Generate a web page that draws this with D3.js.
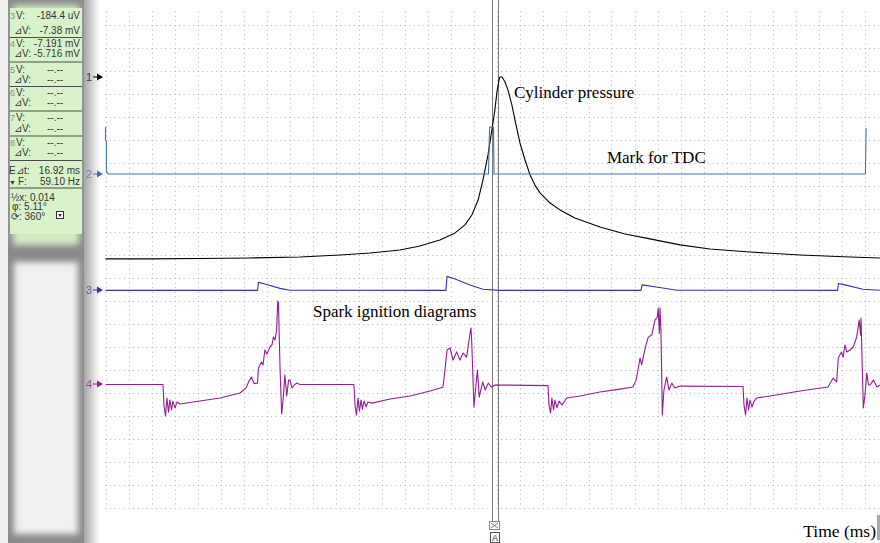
<!DOCTYPE html>
<html><head><meta charset="utf-8">
<script src="https://cdn.jsdelivr.net/npm/d3@7"></script>
<style>html,body{margin:0;padding:0;background:#fff;overflow:hidden}</style>
</head><body><svg id="c" width="880" height="543"></svg>
<script>
// ---------------- DATA ----------------
// time axis: 1 ms per grid division
const gridTimesMs = d3.range(0, 34);
const gridDivs = d3.range(-1, 22);
const channelIds = ["1", "2", "3", "4"];
// channel zero positions, in grid divisions from the top grid line
const channelOffsetsDiv = [2.26, 6.48, 11.52, 15.61];

// Channel 1 – cylinder pressure (divisions relative to channel zero)
const ch1Time = [0,1.93,4.11,6.28,8.46,10.20,11.50,12.80,13.67,14.54,15.20,15.63,15.93,16.20,16.41,16.63,16.80,16.93,17.02,17.11,17.15,17.24,17.37,17.50,17.67,17.85,18.02,18.24,18.46,18.67,18.89,19.33,19.76,20.41,21.50,22.59,23.67,24.98,26.28,28.02,30.20,32.37,33.67];
const ch1Div = [-7.91,-7.91,-7.89,-7.87,-7.83,-7.74,-7.65,-7.52,-7.35,-7.09,-6.78,-6.43,-6.00,-5.35,-4.48,-3.39,-2.30,-1.43,-0.65,-0.13,0,0,-0.22,-0.57,-1.22,-2.09,-2.87,-3.61,-4.26,-4.70,-5.04,-5.48,-5.78,-6.13,-6.52,-6.83,-7.04,-7.30,-7.48,-7.61,-7.74,-7.83,-7.87];

// Channel 2 – TDC mark
const ch2Time = [0,0,0.04,0.04,0.13,16.65,16.70,16.87,16.89,33.04,33.07];
const ch2Div = [2.04,1.48,1.43,0.09,0,0,2.04,2.04,0,0,2.0];

// Channel 3 – ignition primary
const ch3Time = [0,6.61,6.65,6.93,7.59,8.02,14.80,14.85,15.20,15.85,16.41,17.15,23.28,23.33,24.02,24.85,31.83,31.87,32.15,32.93,33.67];
const ch3Div = [-0.02,-0.02,0.33,0.26,0.07,-0.01,-0.02,0.59,0.48,0.22,0.03,-0.02,-0.02,0.22,0.12,-0.01,-0.02,0.28,0.22,0.03,-0.01];

// Channel 4 – spark ignition diagram
const ch4Time = [0,2.50,2.54,2.61,2.67,2.74,2.80,2.87,2.93,3.02,3.11,3.24,4.11,4.98,5.85,6.11,6.24,6.35,6.46,6.61,6.65,6.78,6.85,6.93,7.02,7.15,7.24,7.30,7.37,7.44,7.49,7.52,7.59,7.66,7.72,7.80,7.88,7.96,8.02,8.11,8.20,8.31,8.46,
 10.80,10.85,10.91,10.98,11.04,11.11,11.17,11.24,11.33,11.41,11.59,12.37,13.24,14.11,14.67,14.76,14.85,14.98,15.11,15.27,15.41,15.55,15.70,15.85,15.89,15.92,16.02,16.17,16.25,16.40,16.51,16.64,16.79,16.93,19.24,
 19.28,19.35,19.41,19.48,19.54,19.63,19.72,19.85,20.05,20.63,21.50,22.37,22.93,23.07,23.15,23.24,23.31,23.38,23.50,23.60,23.75,23.89,23.99,24.03,24.08,24.11,24.15,24.21,24.28,24.40,24.50,24.62,24.76,24.98,27.72,
 27.76,27.83,27.89,27.96,28.02,28.11,28.20,28.31,28.89,30.20,31.41,31.54,31.64,31.79,31.86,32.00,32.07,32.15,32.23,32.37,32.51,32.66,32.77,32.83,32.85,32.89,32.95,33.02,33.10,33.17,33.24,33.39,33.54,33.67];
const ch4Div = [-0.02,-0.02,-0.91,-1.39,-0.61,-1.22,-0.70,-1.13,-0.74,-1.04,-0.78,-0.87,-0.74,-0.61,-0.39,-0.17,0.13,0.30,0.02,0.04,0.70,0.96,0.83,1.48,1.30,1.61,1.70,2.04,1.91,2.35,3.61,3.52,0.61,-1.30,-0.70,0.39,-0.52,0.17,0.17,-0.17,-0.04,0.04,-0.02,
 -0.02,-0.91,-1.35,-0.61,-1.17,-0.70,-1.09,-0.74,-1.00,-0.78,-0.83,-0.65,-0.52,-0.30,-0.14,0.61,1.48,1.57,1.04,1.40,1.04,1.35,1.17,2.22,2.43,1.91,-1.00,0.61,-0.57,0.09,-0.26,0.04,-0.13,-0.04,-0.07,
 -0.91,-1.26,-0.61,-1.13,-0.70,-1.04,-0.74,-0.91,-0.61,-0.52,-0.35,-0.22,-0.13,0.17,0.61,1.13,0.83,1.17,1.70,2.04,2.13,2.78,2.91,3.30,2.22,3.30,2.35,-1.35,-0.26,0.30,-0.26,0.04,-0.17,-0.09,-0.11,
 -0.91,-1.35,-0.61,-1.13,-0.70,-1.00,-0.74,-0.61,-0.52,-0.30,-0.13,0.09,0.26,0.09,1.13,1.39,1.17,1.70,1.39,1.48,1.61,2.04,2.78,2.13,2.87,1.26,-1.04,-0.48,0.48,-0.04,-0.04,0.17,-0.13,-0.04];

const cursorTimeMs = [16.8, 17.06];
const annotationTexts = ["Cylinder pressure", "Mark for TDC", "Spark ignition diagrams"];
const annotationTimeMs = [17.76, 21.8, 9.02];
const annotationDiv = [3.17, 6.02, 12.68];
const axisTitle = "Time (ms)";

const readoutRows = [
  ["3", "V:", "-184.4 uV", 15], ["", "\u22BFV:", "-7.38 mV", 30],
  ["4", "V:", "-7.191 mV", 43], ["", "\u22BFV:", "-5.716 mV", 53.5],
  ["5", "V:", "--.--", 69], ["", "\u22BFV:", "--.--", 79.5],
  ["6", "V:", "--.--", 92], ["", "\u22BFV:", "--.--", 102],
  ["7", "V:", "--.--", 117], ["", "\u22BFV:", "--.--", 128],
  ["8", "V:", "--.--", 142], ["", "\u22BFV:", "--.--", 152.5]
];
const separatorsY = [37, 61.5, 86, 110.5, 135.5, 160, 187.5];

// ---------------- DRAW ----------------
const svg = d3.select("#c");
const defs = svg.append("defs");
const blur = defs.append("filter").attr("id", "blur").attr("x", "-20%").attr("y", "-20%").attr("width", "140%").attr("height", "140%");
blur.append("feGaussianBlur").attr("stdDeviation", 3);
const shade = defs.append("linearGradient").attr("id", "shade");
shade.append("stop").attr("offset", "0%").attr("stop-color", "#a0a0a0");
shade.append("stop").attr("offset", "100%").attr("stop-color", "#ffffff");

const x = d3.scaleLinear().domain([0, 33]).range([105.5, 864.5]);
const y = d3.scaleLinear().domain([0, 21]).range([25, 508]);

svg.append("rect").attr("width", 880).attr("height", 543).attr("fill", "#fff");

// grid
const grid = svg.append("g").attr("stroke", "#b0b0b0").attr("stroke-width", 1).attr("stroke-dasharray", "1 3.6");
grid.selectAll("line.v").data(gridTimesMs).join("line").attr("class", "v")
  .attr("x1", d => Math.round(x(d)) + 0.5).attr("x2", d => Math.round(x(d)) + 0.5)
  .attr("y1", y(-1)).attr("y2", y(21));
grid.selectAll("line.h").data(gridDivs.filter(d => d >= 0)).join("line").attr("class", "h")
  .attr("x1", x(0)).attr("x2", 880)
  .attr("y1", d => Math.round(y(d)) + 0.5).attr("y2", d => Math.round(y(d)) + 0.5);
svg.append("rect").attr("x", 100).attr("y", 0).attr("width", 780).attr("height", 9).attr("fill", "#fff");

// left panel
svg.append("rect").attr("x", 0).attr("y", 0).attr("width", 100).attr("height", 543).attr("fill", "#efefef");
svg.append("rect").attr("x", 83).attr("y", 0).attr("width", 17).attr("height", 543).attr("fill", "url(#shade)");
svg.append("rect").attr("x", 8).attr("y", 0).attr("width", 76).attr("height", 543).attr("fill", "#8a8a8a");
svg.append("rect").attr("x", 14).attr("y", 262).attr("width", 64).attr("height", 272).attr("fill", "#f0f0f0").attr("filter", "url(#blur)");
svg.append("rect").attr("x", 13).attr("y", 5).attr("width", 66).attr("height", 240).attr("fill", "#d2ebc4").attr("filter", "url(#blur)");
svg.append("rect").attr("x", 10).attr("y", 8).attr("width", 72).attr("height", 226).attr("fill", "#d8f3c9");

const panel = svg.append("g").attr("font-family", "Liberation Sans, Arial, sans-serif").attr("font-size", 10).attr("fill", "#333");
panel.selectAll("line.sep").data(separatorsY).join("line")
  .attr("x1", 10).attr("x2", 82).attr("y1", d => d + 0.5).attr("y2", d => d + 0.5)
  .attr("stroke", "#4a4a4a").attr("stroke-width", 1);
readoutRows.forEach(r => {
  const by = r[3] + 3.5;
  panel.append("text").attr("x", 10).attr("y", by).attr("fill", "#888").attr("font-size", 9).text(r[0]);
  panel.append("text").attr("x", r[0] ? 16 : 14).attr("y", by).text(r[1]);
  if (r[2] === "--.--") panel.append("text").attr("x", 47).attr("y", by).text(r[2]);
  else panel.append("text").attr("x", 80).attr("y", by).attr("text-anchor", "end").text(r[2]);
});
panel.append("text").attr("x", 9).attr("y", 173.5).text("E");
panel.append("text").attr("x", 16).attr("y", 173.5).text("\u22BFt:");
panel.append("text").attr("x", 80).attr("y", 173.5).attr("text-anchor", "end").text("16.92 ms");
panel.append("text").attr("x", 9).attr("y", 184.5).attr("font-size", 7).text("\u25BC");
panel.append("text").attr("x", 18).attr("y", 184.5).text("F:");
panel.append("text").attr("x", 80).attr("y", 184.5).attr("text-anchor", "end").text("59.10 Hz");
panel.append("text").attr("x", 11).attr("y", 200.5).text("\u00BDx: 0.014");
panel.append("text").attr("x", 12).attr("y", 210).text("\u03C6: 5.11\u00B0");
panel.append("text").attr("x", 11).attr("y", 219.5).text("\u27F3: 360\u00B0");
panel.append("rect").attr("x", 56.5).attr("y", 211.5).attr("width", 7).attr("height", 7).attr("fill", "#fff").attr("stroke", "#333");
panel.append("path").attr("d", "M58,214 L62,214 L60,217 Z").attr("fill", "#333");

// cursor
svg.selectAll("line.cur").data(cursorTimeMs).join("line").attr("class", "cur")
  .attr("x1", d => Math.round(x(d)) + 0.5).attr("x2", d => Math.round(x(d)) + 0.5)
  .attr("y1", 0).attr("y2", 521).attr("stroke", "#7a7a7a").attr("stroke-width", 1);

// traces
const colors = ["#000000", "#4274aa", "#3333a8", "#8e1f8e"];
const chTimes = [ch1Time, ch2Time, ch3Time, ch4Time];
const chDivs = [ch1Div, ch2Div, ch3Div, ch4Div];
chTimes.forEach((ts, i) => {
  const pts = ts.map((t, k) => [t, chDivs[i][k]]);
  const line = d3.line().x(d => x(d[0])).y(d => y(channelOffsetsDiv[i] - d[1]));
  svg.append("path").attr("d", line(pts)).attr("fill", "none")
    .attr("stroke", colors[i]).attr("stroke-width", 1.1).attr("stroke-linejoin", "round");
});

// channel markers
channelIds.forEach((id, i) => {
  const yy = y(channelOffsetsDiv[i]);
  const g = svg.append("g").attr("fill", colors[i]).attr("stroke", colors[i]);
  g.append("text").attr("x", 86).attr("y", yy + 4).attr("stroke", "none").attr("font-family", "Liberation Sans, Arial, sans-serif").attr("font-size", 11).attr("opacity", 0.75).text(id);
  g.append("line").attr("x1", 93).attr("x2", 98).attr("y1", yy).attr("y2", yy).attr("stroke-width", 1);
  g.append("path").attr("d", `M97,${yy - 3.5} L103,${yy} L97,${yy + 3.5} Z`).attr("stroke", "none");
});

// cursor boxes
svg.append("rect").attr("x", 489.5).attr("y", 521.5).attr("width", 10).attr("height", 8).attr("fill", "#fff").attr("stroke", "#888");
svg.append("path").attr("d", "M491,523 L498,528 M498,523 L491,528").attr("stroke", "#777");
svg.append("rect").attr("x", 490.5).attr("y", 532.5).attr("width", 9).attr("height", 10).attr("fill", "#fff").attr("stroke", "#555");
svg.append("text").attr("x", 495).attr("y", 541).attr("text-anchor", "middle").attr("font-family", "Liberation Sans, Arial, sans-serif").attr("font-size", 9).attr("fill", "#333").text("A");

// annotations
const ann = svg.append("g").attr("font-family", "Liberation Serif, Times New Roman, serif").attr("font-size", 17).attr("fill", "#000");
annotationTexts.forEach((t, i) => {
  ann.append("text").attr("x", x(annotationTimeMs[i])).attr("y", y(annotationDiv[i])).text(t);
});
ann.append("text").attr("x", 876).attr("y", 537).attr("font-size", 17.5).attr("text-anchor", "end").text(axisTitle);
svg.append("rect").attr("x", 877).attr("y", 515).attr("width", 3).attr("height", 25).attr("fill", "#aaa");
</script></body></html>
